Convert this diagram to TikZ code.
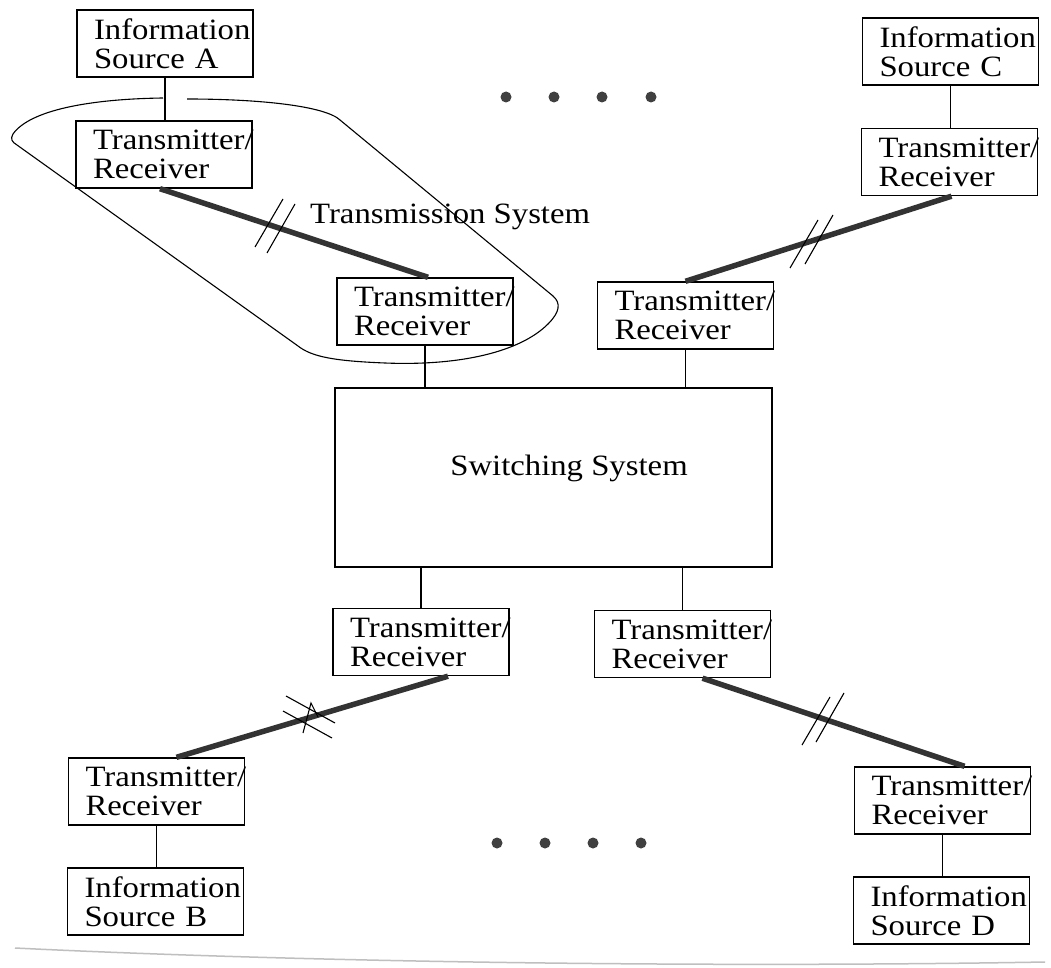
\documentclass[tikz,border=0pt]{standalone}
\usepackage{fontspec}
\setmainfont{Liberation Serif}[FakeStretch=1.11]
\usetikzlibrary{calc}

\newcommand\diagfont{\fontsize{29.5}{29}\selectfont}

\begin{document}
\begin{tikzpicture}[x=1pt,y=-1pt,
  box/.style={draw, line width=1.4pt, text width=142pt, align=left,
    inner xsep=17pt, inner ysep=0pt, minimum height=67pt, font=\diagfont,
    execute at begin node={\hyphenpenalty=10000\relax}},
  wire/.style={line width=1.2pt},
  trunk/.style={line width=5.5pt, draw=black!80},
  hash/.style={line width=1.1pt},
  ellip/.style={circle, fill=black!75, inner sep=0pt, minimum size=11pt},
  lbl/.style={font=\diagfont, inner sep=0pt}
]
\path[use as bounding box, fill=white] (0,0) rectangle (1051,968);

% terminal boxes
\node[box] (srcA) at (165,43.5)   {Information\\Source A};
\node[box] (trA)  at (164,154.5)  {Transmitter/\\Receiver};
\node[box] (trA2) at (425,311.5)  {Transmitter/\\Receiver};
\node[box] (srcC) at (950.5,51.5) {Information\\Source C};
\node[box] (trC)  at (949.5,162)  {Transmitter/\\Receiver};
\node[box] (trC2) at (685.5,315.5){Transmitter/\\Receiver};
\node[box] (trB2) at (421,642)    {Transmitter/\\Receiver};
\node[box] (trD2) at (682.5,644)  {Transmitter/\\Receiver};
\node[box] (trB)  at (156.5,791.5){Transmitter/\\Receiver};
\node[box] (srcB) at (155.5,901.5){Information\\Source B};
\node[box] (trD)  at (942.5,800.5){Transmitter/\\Receiver};
\node[box] (srcD) at (941.5,910.5){Information\\Source D};

% switching system
\node[draw, line width=1.4pt, inner sep=0pt, minimum width=437pt,
      minimum height=179pt] (sw) at (553.5,477.5) {};
\node[lbl] (swl) at (569,468) {Switching System};

% thin connections
\draw[wire] (srcA.south) -- (srcA.south |- trA.north);
\draw[wire] (srcC.south) -- (srcC.south |- trC.north);
\draw[wire] (trA2.south) -- (trA2.south |- sw.north);
\draw[wire] (trC2.south) -- (trC2.south |- sw.north);
\draw[wire] (trB2.north) -- (trB2.north |- sw.south);
\draw[wire] (trD2.north) -- (trD2.north |- sw.south);
\draw[wire] (trB.south) -- (trB.south |- srcB.north);
\draw[wire] (trD.south) -- (trD.south |- srcD.north);

% transmission links
\draw[trunk] ([xshift=-4pt]trA.south) -- ([xshift=3pt]trA2.north);
\draw[trunk] ([xshift=2pt]trC.south) -- (trC2.north);
\draw[trunk] ([xshift=27pt]trB2.south) -- ([xshift=20pt]trB.north);
\draw[trunk] ([xshift=20pt]trD2.south) -- ([xshift=22pt]trD.north);

% break marks on the links
\draw[hash] (255,247) -- (283,199) (267,253) -- (295,204);
\draw[hash] (790,268) -- (818,220) (805,264) -- (833,215);
\draw[hash] (802,745) -- (830,697) (816,742) -- (844,693);
\draw[hash] (286,696) -- (335,723) (283,711) -- (332,738);
\draw[hash] (303,733) -- (311,703) -- (318,717);

% outline of the transmission system
\draw[line width=1.1pt]
  (163,98) .. controls (90,99) and (30,110) .. (13,134)
  .. controls (10,139) and (12,142) .. (17,145)
  -- (298,346)
  .. controls (312,357) and (335,361) .. (385,363)
  .. controls (460,366) and (520,352) .. (548,324)
  .. controls (560,312) and (561,303) .. (553,296)
  -- (340,120)
  .. controls (325,106) and (260,99) .. (187,99);
\node[lbl, anchor=base west] (ts) at (310,224) {Transmission System};

% ellipses
\foreach \x [count=\i] in {506,554,602,651} \node[ellip] (t\i) at (\x,97) {};
\foreach \x [count=\i] in {497,545,593,641} \node[ellip] (b\i) at (\x,843) {};

% sheet edge
\draw[black!25, line width=1.5pt] (15,948) .. controls (300,962) and (700,968) .. (1045,962);
\end{tikzpicture}
\end{document}
